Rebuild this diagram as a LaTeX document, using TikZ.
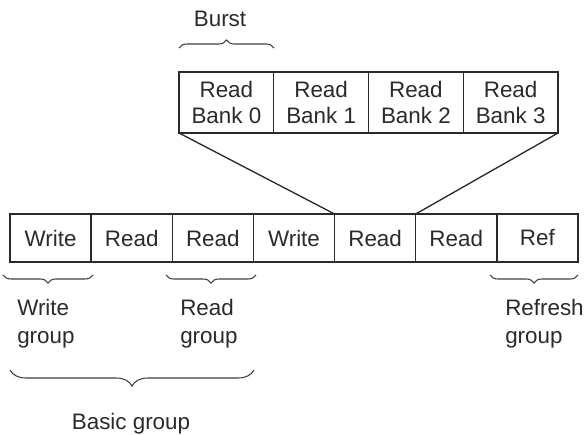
\documentclass[tikz,border=0pt]{standalone}
\usepackage{fontspec}
\setmainfont{Liberation Sans}
\usetikzlibrary{decorations.pathreplacing}
\definecolor{ink}{HTML}{2A2A2A}
\tikzset{
  cell/.style={draw=ink, line width=1pt, minimum width=81.14*0.75pt, minimum height=48*0.75pt, inner sep=0pt, outer sep=0pt, anchor=north west, text=ink, font=\fontsize{16.8}{19.5}\selectfont},
  bcell/.style={cell, minimum width=94.75*0.75pt, minimum height=61*0.75pt, align=center},
  brc/.style={draw=ink!90, line width=0.8pt, decorate, decoration={brace, amplitude=#1}},
  lbl/.style={text=ink, inner sep=0pt, align=left, font=\fontsize{16.8}{21}\selectfont}
}
\begin{document}
\begin{tikzpicture}[x=0.75pt, y=-0.75pt]
\useasboundingbox (0,0) rectangle (586,435);
% bottom row
\node[cell] (c1) at (10,214) {Write};
\node[cell] (c2) at (c1.north east) {Read};
\node[cell] (c3) at (c2.north east) {Read};
\node[cell] (c4) at (c3.north east) {Write};
\node[cell] (c5) at (c4.north east) {Read};
\node[cell] (c6) at (c5.north east) {Read};
\node[cell] (c7) at (c6.north east) {Ref};
% top row
\node[bcell] (b0) at (179,72) {Read\\Bank 0};
\node[bcell] (b1) at (b0.north east) {Read\\Bank 1};
\node[bcell] (b2) at (b1.north east) {Read\\Bank 2};
\node[bcell] (b3) at (b2.north east) {Read\\Bank 3};
% connectors
\draw[draw=ink, line width=1pt] (b0.south west) -- (c5.north west);
\draw[draw=ink, line width=1pt] (b3.south east) -- (c5.north east);
% braces
\draw[brc=6pt] (179,48) -- (274,48);
\draw[brc=6pt] (93,275) -- (3,275);
\draw[brc=6pt] (256,275) -- (166,275);
\draw[brc=6pt] (578,275) -- (490,275);
\draw[brc=12pt] (254,370) -- (10,370);
% labels
\node[lbl] (burst) at (220,19) {Burst};
\node[lbl, anchor=west] (wg) at (17,324) {Write\\group};
\node[lbl, anchor=west] (rg) at (180,324) {Read\\group};
\node[lbl, anchor=west] (fg) at (505,324) {Refresh\\group};
\node[lbl] (bg) at (131,424) {Basic group};
\end{tikzpicture}
\end{document}
